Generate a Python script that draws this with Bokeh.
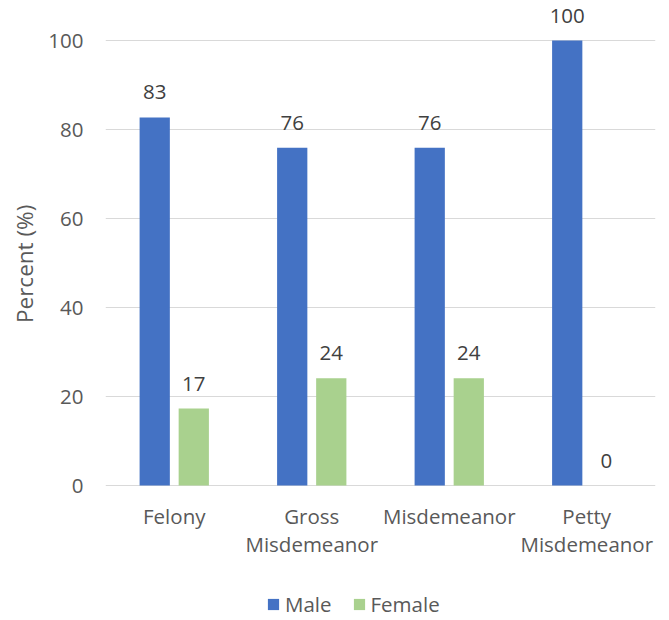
from bokeh.plotting import figure
from bokeh.models import ColumnDataSource, FactorRange, Range1d, FixedTicker, Legend, LegendItem, Title
from bokeh.transform import dodge
from bokeh.core.properties import value
from bokeh.embed import file_html
from bokeh.resources import INLINE

# Offence categories and the share of each sex within them
categories = ["Felony", "Gross\nMisdemeanor", "Misdemeanor", "Petty\nMisdemeanor"]
male_pct = [82.7, 75.9, 75.9, 100.0]
female_pct = [17.3, 24.1, 24.1, 0.0]
y_ticks = [0, 20, 40, 60, 80, 100]
y_title = "Percent (%)"

FONT = "Open Sans"
FS = "20.5px"
BLUE = "#4472C4"
GREEN = "#A9D18E"
TEXT = "#595959"
LABEL = "#404040"
GRID = "#D9D9D9"

src = ColumnDataSource(dict(
    cat=categories,
    male=male_pct,
    female=female_pct,
    male_lbl=[f"{v:.0f}" for v in male_pct],
    female_lbl=[f"{v:.0f}" for v in female_pct],
    base=[0] * len(categories),
))

# plot frame spans the whole height; the value axis runs 0-100 inside it and the
# space under zero carries the category names and the legend
PX_PER_UNIT = 4.45
TOP_PX, ZERO_PX, BOTTOM_PX = 5, 485, 620
y_lo = -(BOTTOM_PX - ZERO_PX) / PX_PER_UNIT
y_hi = (ZERO_PX - TOP_PX) / PX_PER_UNIT

p = figure(
    width=669, height=620,
    x_range=FactorRange(*categories, range_padding=0),
    y_range=Range1d(y_lo, y_hi),
    output_backend="svg", toolbar_location=None,
    min_border_left=105, min_border_right=14,
    min_border_top=TOP_PX, min_border_bottom=0,
)

off = 0.142
bw = 0.22
r_m = p.vbar(x=dodge("cat", -off, range=p.x_range), top="male", width=bw,
             source=src, fill_color=BLUE, line_color=None)
r_f = p.vbar(x=dodge("cat", off, range=p.x_range), top="female", width=bw,
             source=src, fill_color=GREEN, line_color=None)

# value labels above each bar
for col, lbl, d in (("male", "male_lbl", -off), ("female", "female_lbl", off)):
    p.text(x=dodge("cat", d, range=p.x_range), y=col, text=lbl, source=src,
           text_align="center", text_baseline="middle", y_offset=-25,
           text_font=value(FONT), text_font_size=FS, text_color=LABEL)

# category names under the zero line
p.text(x="cat", y="base", text="cat", source=src,
       text_align="center", text_baseline="top", y_offset=16,
       text_line_height=1.0,
       text_font=value(FONT), text_font_size=FS, text_color=TEXT)

p.outline_line_color = None
p.xaxis.visible = False
p.xgrid.grid_line_color = None
p.ygrid.ticker = FixedTicker(ticks=y_ticks)
p.ygrid.grid_line_color = GRID
p.ygrid.grid_line_width = 1

yax = p.yaxis[0]
yax.ticker = FixedTicker(ticks=y_ticks)
yax.axis_line_color = None
yax.major_tick_line_color = None
yax.minor_tick_line_color = None
yax.major_tick_in = 0
yax.major_tick_out = 0
yax.major_label_text_font = FONT
yax.major_label_text_font_size = FS
yax.major_label_text_color = TEXT
yax.major_label_standoff = 22

# value-axis title, centred on the 0-100 span rather than the whole frame
title_len = 120
p.add_layout(Title(text=y_title, align="left", vertical_align="middle",
                   offset=(BOTTOM_PX - (ZERO_PX + 40) / 2) - title_len / 2,
                   text_font=FONT, text_font_size="22.5px", text_font_style="normal",
                   text_color=TEXT, standoff=9), "left")

legend = Legend(
    items=[LegendItem(label="Male", renderers=[r_m]),
           LegendItem(label="Female", renderers=[r_f])],
    orientation="horizontal", location=(161, 2),
    border_line_color=None, background_fill_alpha=0,
    glyph_width=14, glyph_height=14, label_standoff=5, spacing=20,
    padding=0, margin=0,
    label_text_font=FONT, label_text_font_size=FS, label_text_color=TEXT,
)
p.add_layout(legend, "center")

open("out.html", "w").write(file_html(p, INLINE))
